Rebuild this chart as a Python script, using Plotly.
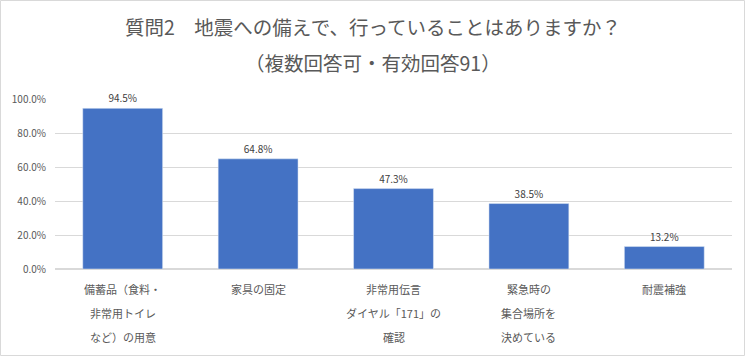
import plotly.graph_objects as go

categories = ["備蓄品", "家具の固定", "非常用伝言", "緊急時", "耐震補強"]
label_lines = [
    ["備蓄品（食料・", "非常用トイレ", "など）の用意"],
    ["家具の固定"],
    ["非常用伝言", "ダイヤル「171」の", "確認"],
    ["緊急時の", "集合場所を", "決めている"],
    ["耐震補強"],
]
values = [0.945, 0.648, 0.473, 0.385, 0.132]
title_lines = ["質問2　地震への備えで、行っていることはありますか？", "（複数回答可・有効回答91）"]

FONT = "Noto Sans CJK JP, Noto Sans, sans-serif"
W, H = 746, 357
mt, mb, ml, mr = 99, 88, 55, 14

fig = go.Figure(go.Bar(
    x=categories, y=values,
    marker_color="#4472C4",
    text=[f"{v*100:.1f}%" for v in values],
    textposition="outside",
    textfont=dict(size=10, color="#404040", family=FONT),
    cliponaxis=False,
))

annotations = []
ph = H - mt - mb
pw = W - ml - mr
for cat, lines in zip(categories, label_lines):
    for i, line in enumerate(lines):
        ypix = 289 + 24 * i  # center pixel from top
        yp = (H - mb - ypix) / ph
        annotations.append(dict(
            x=cat, xref="x", y=yp, yref="paper", text=line, showarrow=False,
            font=dict(size=11, color="#595959", family=FONT),
            xanchor="center", yanchor="middle",
        ))
for i, t in enumerate(title_lines):
    ypix = 27 + 35 * i
    annotations.append(dict(
        x=(373 - ml) / pw, xref="paper", y=(H - mb - ypix) / ph, yref="paper", text=t,
        showarrow=False, font=dict(size=19.5, color="#595959", family=FONT),
        xanchor="center", yanchor="middle",
    ))

fig.update_layout(
    width=W, height=H,
    margin=dict(l=ml, r=mr, t=mt, b=mb, autoexpand=False),
    paper_bgcolor="white", plot_bgcolor="white",
    showlegend=False,
    bargap=0.41,
    annotations=annotations,
    font=dict(family=FONT, color="#595959"),
    shapes=[dict(type="rect", xref="paper", yref="paper",
                 x0=-(ml - 0.5) / pw, x1=1 + (mr - 1.5) / pw,
                 y0=-(mb - 1.5) / ph, y1=1 + (mt - 0.5) / ph,
                 line=dict(color="#d9d9d9", width=1))],
)
fig.update_xaxes(showticklabels=False, showgrid=False, showline=False, zeroline=False,
                 automargin=False)
fig.update_yaxes(range=[0, 1.0], dtick=0.2, tickformat=".1%",
                 showgrid=True, gridcolor="#d9d9d9", zeroline=True,
                 zerolinecolor="#d9d9d9", showline=False, automargin=False,
                 tickfont=dict(size=10, color="#595959", family=FONT),
                 ticks="", ticklabelstandoff=8)

fig.write_html("out.html", config={"displayModeBar": False},
               post_script="document.body.style.margin='0';document.body.style.padding='0';")
